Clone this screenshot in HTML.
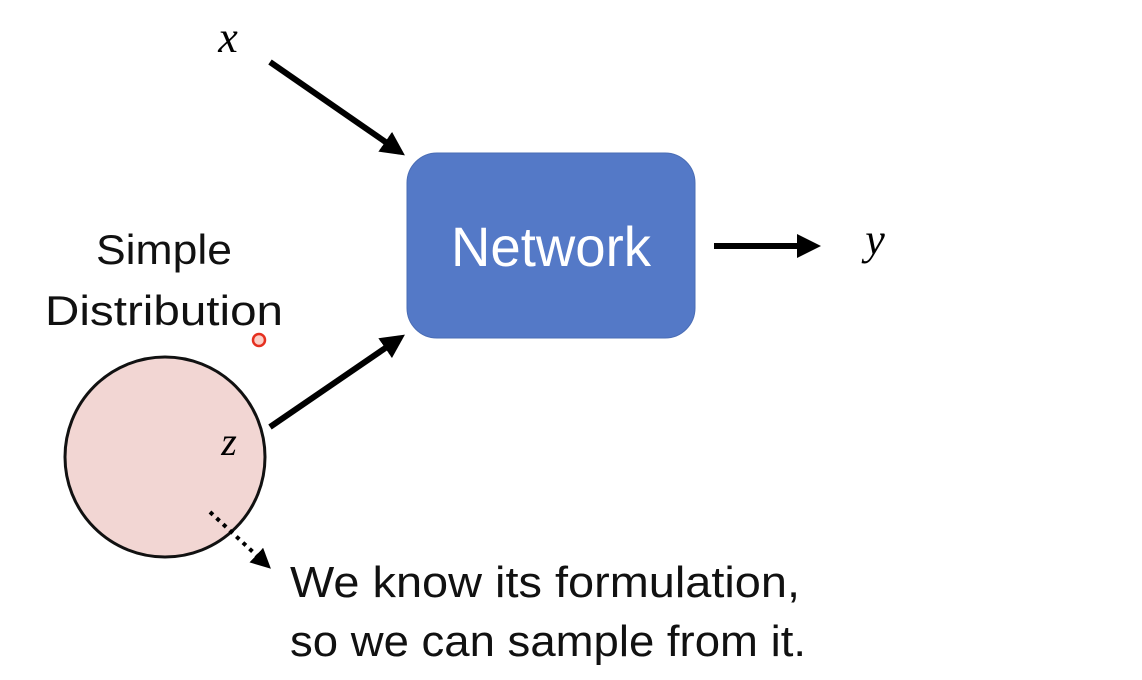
<!DOCTYPE html>
<html><head><style>html,body{margin:0;padding:0;background:#fff;}svg{display:block}</style></head>
<body>
<svg width="1142" height="680" viewBox="0 0 1142 680" xmlns="http://www.w3.org/2000/svg">
<defs>
<marker id="ah" markerWidth="4" markerHeight="4" refX="3" refY="2" orient="auto" markerUnits="strokeWidth">
<path d="M0,0 L4,2 L0,4 z" fill="#000"/></marker>
<marker id="ah2" markerWidth="5" markerHeight="5" refX="4" refY="2.5" orient="auto" markerUnits="strokeWidth">
<path d="M0,0 L5,2.5 L0,5 z" fill="#000"/></marker>
</defs>
<rect width="1142" height="680" fill="#fff"/>
<rect x="407" y="153" width="288" height="185" rx="30" ry="30" fill="#5479c7" stroke="#4a6db5" stroke-width="1"/>
<text x="551" y="266" text-anchor="middle" font-family="Liberation Sans, sans-serif" font-size="56" fill="#fff" textLength="200" lengthAdjust="spacingAndGlyphs">Network</text>
<circle cx="165" cy="457" r="100" fill="#f2d6d3" stroke="#111" stroke-width="3"/>
<line x1="270" y1="62" x2="400" y2="152" stroke="#000" stroke-width="6" marker-end="url(#ah)"/>
<line x1="270" y1="427" x2="400" y2="338" stroke="#000" stroke-width="6" marker-end="url(#ah)"/>
<line x1="714" y1="246" x2="815" y2="246" stroke="#000" stroke-width="6" marker-end="url(#ah)"/>
<line x1="210" y1="512" x2="268" y2="566" stroke="#000" stroke-width="4" stroke-dasharray="4,5" marker-end="url(#ah2)"/>
<text x="228" y="52" text-anchor="middle" font-family="Liberation Serif, serif" font-style="italic" font-size="44">x</text>
<text x="875" y="254" text-anchor="middle" font-family="Liberation Serif, serif" font-style="italic" font-size="44">y</text>
<text x="229" y="455" text-anchor="middle" font-family="Liberation Serif, serif" font-style="italic" font-size="40">z</text>
<text x="164" y="264" text-anchor="middle" font-family="Liberation Sans, sans-serif" font-size="42" fill="#111" textLength="136" lengthAdjust="spacingAndGlyphs">Simple</text>
<text x="164" y="325" text-anchor="middle" font-family="Liberation Sans, sans-serif" font-size="42" fill="#111" textLength="238" lengthAdjust="spacingAndGlyphs">Distribution</text>
<circle cx="259" cy="340" r="6" fill="#fbd0c8" stroke="#e53020" stroke-width="2.5"/>
<text x="290" y="597" font-family="Liberation Sans, sans-serif" font-size="44" fill="#111" textLength="510" lengthAdjust="spacingAndGlyphs">We know its formulation,</text>
<text x="290" y="656" font-family="Liberation Sans, sans-serif" font-size="44" fill="#111" textLength="516" lengthAdjust="spacingAndGlyphs">so we can sample from it.</text>
</svg>
</body></html>
